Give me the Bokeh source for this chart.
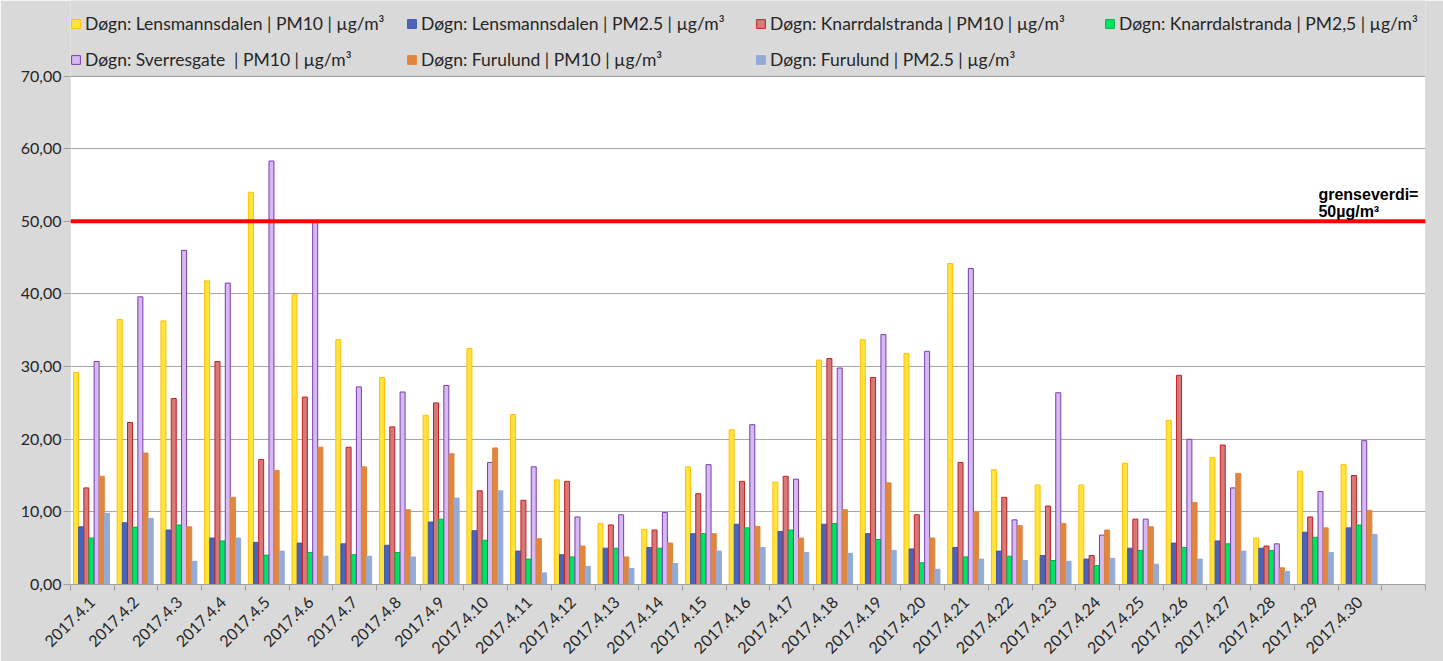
import math
from bokeh.plotting import figure
from bokeh.models import (ColumnDataSource, Legend, LegendItem, Span, Label, BoxAnnotation,
                          FixedTicker, CustomJSTickFormatter)
from bokeh.transform import dodge
from bokeh.embed import file_html
from bokeh.resources import INLINE

days = ["2017.4.1", "2017.4.2", "2017.4.3", "2017.4.4", "2017.4.5", "2017.4.6",
        "2017.4.7", "2017.4.8", "2017.4.9", "2017.4.10", "2017.4.11", "2017.4.12",
        "2017.4.13", "2017.4.14", "2017.4.15", "2017.4.16", "2017.4.17", "2017.4.18",
        "2017.4.19", "2017.4.20", "2017.4.21", "2017.4.22", "2017.4.23", "2017.4.24",
        "2017.4.25", "2017.4.26", "2017.4.27", "2017.4.28", "2017.4.29", "2017.4.30"]

lens_pm10 = [29.2, 36.5, 36.3, 41.8, 54.0, 39.9, 33.7, 28.5, 23.3, 32.5, 23.4, 14.4, 8.4, 7.6, 16.2,
             21.3, 14.1, 30.9, 33.7, 31.8, 44.2, 15.8, 13.7, 13.7, 16.7, 22.6, 17.5, 6.4, 15.6, 16.5]
lens_pm25 = [7.95, 8.5, 7.5, 6.4, 5.8, 5.7, 5.6, 5.4, 8.6, 7.4, 4.6, 4.1, 5.0, 5.1, 7.0,
             8.3, 7.3, 8.3, 7.0, 4.9, 5.1, 4.6, 4.0, 3.5, 5.0, 5.7, 6.0, 5.0, 7.2, 7.8]
knarr_pm10 = [13.3, 22.3, 25.6, 30.7, 17.2, 25.8, 18.9, 21.7, 25.0, 12.9, 11.6, 14.2, 8.2, 7.5, 12.5,
              14.2, 14.9, 31.1, 28.5, 9.6, 16.8, 12.0, 10.8, 4.0, 9.0, 28.8, 19.2, 5.3, 9.3, 15.0]
knarr_pm25 = [6.4, 7.9, 8.2, 6.0, 4.05, 4.4, 4.1, 4.4, 9.0, 6.1, 3.5, 3.8, 5.0, 5.0, 7.0,
              7.8, 7.5, 8.4, 6.2, 3.0, 3.8, 3.9, 3.3, 2.6, 4.7, 5.1, 5.6, 4.7, 6.5, 8.2]
sverre_pm10 = [30.7, 39.6, 46.0, 41.5, 58.3, 50.0, 27.2, 26.5, 27.4, 16.8, 16.2, 9.3, 9.6, 9.9, 16.5,
               22.0, 14.5, 29.8, 34.4, 32.1, 43.5, 8.9, 26.4, 6.8, 9.0, 20.0, 13.3, 5.6, 12.8, 19.8]
furu_pm10 = [14.9, 18.1, 7.95, 12.0, 15.7, 18.9, 16.2, 10.3, 18.0, 18.8, 6.3, 5.3, 3.8, 5.7, 7.0,
             8.0, 6.4, 10.3, 14.0, 6.4, 10.0, 8.1, 8.4, 7.5, 7.95, 11.3, 15.3, 2.3, 7.8, 10.2]
furu_pm25 = [9.8, 9.1, 3.2, 6.4, 4.6, 3.9, 3.9, 3.8, 11.9, 12.9, 1.6, 2.5, 2.2, 2.9, 4.6,
             5.1, 4.4, 4.3, 4.7, 2.1, 3.5, 3.3, 3.2, 3.6, 2.8, 3.5, 4.6, 1.8, 4.4, 6.9]

series_names = ["Døgn: Lensmannsdalen | PM10 | µg/m³",
                "Døgn: Lensmannsdalen | PM2.5 | µg/m³",
                "Døgn: Knarrdalstranda | PM10 | µg/m³",
                "Døgn: Knarrdalstranda | PM2,5 | µg/m³",
                "Døgn: Sverresgate  | PM10 | µg/m³",
                "Døgn: Furulund | PM10 | µg/m³",
                "Døgn: Furulund | PM2.5 | µg/m³"]
limit_value = 50
y_ticks = [0, 10, 20, 30, 40, 50, 60, 70]
y_max = 70

series_keys = ["lens_pm10", "lens_pm25", "knarr_pm10", "knarr_pm25", "sverre_pm10", "furu_pm10", "furu_pm25"]
fills = ["#FFE43F", "#4A64BC", "#D57A7A", "#00E464", "#D6B9EE", "#E0863D", "#93ABD6"]
lines = ["#FFC000", "#3F58AA", "#C81E1E", "#00B050", "#7A3EAE", "#E0863D", "#93ABD6"]

src = ColumnDataSource(dict(
    x=[i + 0.5 for i in range(len(days))],
    lens_pm10=lens_pm10, lens_pm25=lens_pm25, knarr_pm10=knarr_pm10, knarr_pm25=knarr_pm25,
    sverre_pm10=sverre_pm10, furu_pm10=furu_pm10, furu_pm25=furu_pm25))

FONT = "Lato"
GRAY = "#D9D9D9"

# the frame reaches the top of the figure so that the legend (inside it) is not clipped;
# the white plot area is the box from 0 to 70
p = figure(width=1443, height=661, x_range=(0, 31), y_range=(0, 80.4),
           output_backend="svg", toolbar_location=None,
           min_border_left=70, min_border_right=18, min_border_top=0, min_border_bottom=77)
p.border_fill_color = GRAY
p.background_fill_color = GRAY
p.outline_line_color = None

p.add_layout(BoxAnnotation(left=0, right=len(days) + 1, bottom=0, top=y_max,
                           fill_color="white", fill_alpha=1, line_color="#A0A0A0",
                           line_width=1, level="image"))

bw = 0.118
renderers = []
for k, key in enumerate(series_keys):
    r = p.vbar(x=dodge("x", (k - 3) * bw - 0.02, range=p.x_range), top=key, width=bw * 0.97,
               bottom=0, source=src, fill_color=fills[k], line_color=lines[k], line_width=1)
    renderers.append(r)

# y axis
p.yaxis.ticker = FixedTicker(ticks=y_ticks)
p.yaxis.formatter = CustomJSTickFormatter(code="return tick.toFixed(2).replace('.', ',');")
p.yaxis.major_label_text_font = FONT
p.yaxis.major_label_text_font_size = "16px"
p.yaxis.major_label_text_color = "#262626"
p.yaxis.major_label_standoff = 2
p.yaxis.major_tick_out = 7
p.yaxis.major_tick_in = 0
p.yaxis.minor_tick_line_color = None
p.yaxis.axis_line_color = None
p.yaxis.major_tick_line_color = "#A0A0A0"

p.ygrid.ticker = FixedTicker(ticks=y_ticks[1:])
p.ygrid.grid_line_color = "#A6A6A6"
p.xgrid.visible = False

# x axis: labels at centres, tick marks at category boundaries
p.xaxis.ticker = FixedTicker(ticks=[i + 0.5 for i in range(len(days))],
                             minor_ticks=list(range(0, len(days) + 2)))
p.xaxis.formatter = CustomJSTickFormatter(args=dict(labels=days), code="""
    const i = Math.floor(tick);
    return (i >= 0 && i < labels.length) ? labels[i] : '';
""")
p.xaxis.major_label_orientation = math.pi / 4
p.xaxis.major_label_text_font = FONT
p.xaxis.major_label_text_font_size = "16px"
p.xaxis.major_label_text_color = "#262626"
p.xaxis.major_label_standoff = 9
p.xaxis.major_tick_out = 0
p.xaxis.major_tick_in = 0
p.xaxis.minor_tick_out = 6
p.xaxis.minor_tick_in = 0
p.xaxis.minor_tick_line_color = "#A0A0A0"
p.xaxis.axis_line_color = "#A0A0A0"

# limit line
p.add_layout(Span(location=limit_value, dimension="width", line_color="#FF0000", line_width=4))
p.add_layout(Label(x=28.55, y=53.75, text="grenseverdi=", text_font="Liberation Sans",
                   text_font_style="bold", text_font_size="16px", text_color="black",
                   text_baseline="alphabetic"))
p.add_layout(Label(x=28.55, y=51.4, text="50µg/m³", text_font="Liberation Sans",
                   text_font_style="bold", text_font_size="16px", text_color="black",
                   text_baseline="alphabetic"))

# legend: one legend per entry, two aligned rows at the top of the chart
col_x = [0, 336, 685, 1034]
row_y = [550, 514]
for k, r in enumerate(renderers):
    row, col = (0, k) if k < 4 else (1, k - 4)
    leg = Legend(items=[LegendItem(label=series_names[k], renderers=[r])],
                 location=(col_x[col], row_y[row]),
                 glyph_width=11, glyph_height=11, label_standoff=4,
                 label_text_font=FONT, label_text_font_size="17.5px", label_text_color="#262626",
                 padding=0, margin=0, spacing=0, label_height=20,
                 background_fill_alpha=0, border_line_alpha=0)
    p.add_layout(leg)

open("out.html", "w").write(file_html(p, INLINE))
